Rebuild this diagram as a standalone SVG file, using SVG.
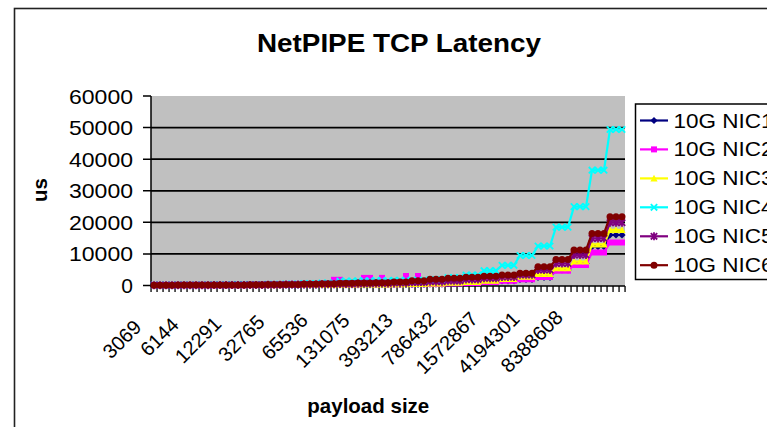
<svg xmlns="http://www.w3.org/2000/svg" width="767" height="427" viewBox="0 0 767 427">
<style>
text{font-family:"Liberation Sans",Arial,sans-serif;fill:#000}
.t10{font-size:20.5px}
.bold{font-weight:bold}
.ylab{font-size:21px;text-anchor:end}
.xlab{font-size:20px;text-anchor:end}
.grid{stroke:#000;stroke-width:1.7;fill:none}
.axis{stroke:#000;stroke-width:1.5;fill:none}
.ser{fill:none;stroke-width:2.2;stroke-linejoin:round}
.s1{stroke:#000080;marker-mid:url(#mDia)}
.s2{stroke:#ff00ff;marker-mid:url(#mSq)}
.s3{stroke:#ffff00;marker-mid:url(#mTri)}
.s4{stroke:#00ffff;marker-mid:url(#mX)}
.s5{stroke:#800080;marker-mid:url(#mStar)}
.s6{stroke:#800000;marker-mid:url(#mCir)}
#series .s1{marker-start:url(#mDia);marker-end:url(#mDia)}
#series .s2{marker-start:url(#mSq);marker-end:url(#mSq)}
#series .s3{marker-start:url(#mTri);marker-end:url(#mTri)}
#series .s4{marker-start:url(#mX);marker-end:url(#mX)}
#series .s5{marker-start:url(#mStar);marker-end:url(#mStar)}
#series .s6{marker-start:url(#mCir);marker-end:url(#mCir)}
</style>
<defs>
<marker id="mDia" markerUnits="userSpaceOnUse" markerWidth="10" markerHeight="10" viewBox="-5 -5 10 10" refX="0" refY="0"><path d="M0,-3.6L3.6,0L0,3.6L-3.6,0Z" fill="#000080"/></marker>
<marker id="mSq" markerUnits="userSpaceOnUse" markerWidth="10" markerHeight="10" viewBox="-5 -5 10 10" refX="0" refY="0"><rect x="-3" y="-3" width="6" height="6" fill="#ff00ff"/></marker>
<marker id="mTri" markerUnits="userSpaceOnUse" markerWidth="10" markerHeight="10" viewBox="-5 -5 10 10" refX="0" refY="0"><path d="M0,-3.6L3.6,3L-3.6,3Z" fill="#ffff00"/></marker>
<marker id="mX" markerUnits="userSpaceOnUse" markerWidth="10" markerHeight="10" viewBox="-5 -5 10 10" refX="0" refY="0"><path d="M-3.2,-3.2L3.2,3.2M-3.2,3.2L3.2,-3.2" stroke="#00ffff" stroke-width="1.8" fill="none"/></marker>
<marker id="mStar" markerUnits="userSpaceOnUse" markerWidth="10" markerHeight="10" viewBox="-5 -5 10 10" refX="0" refY="0"><path d="M-3.2,-3.2L3.2,3.2M-3.2,3.2L3.2,-3.2M0,-4V4" stroke="#800080" stroke-width="1.8" fill="none"/></marker>
<marker id="mCir" markerUnits="userSpaceOnUse" markerWidth="10" markerHeight="10" viewBox="-5 -5 10 10" refX="0" refY="0"><circle r="3.5" fill="#800000"/></marker>
</defs>

<rect width="767" height="427" fill="#fff"/>

<g id="chart-frame">
<rect x="14.5" y="8.5" width="800" height="500" fill="none" stroke="#222" stroke-width="1.6"/>
</g>

<g id="title">
<text x="399" y="52" class="bold" font-size="26" text-anchor="middle" textLength="284" lengthAdjust="spacingAndGlyphs">NetPIPE TCP Latency</text>
</g>

<g id="plot-area">
<rect x="151" y="96" width="474" height="190" fill="#c0c0c0"/>
</g>

<g id="gridlines">
<path class="grid" d="M151,253.9H625M151,222.3H625M151,190.8H625M151,159.2H625M151,127.6H625"/>
</g>

<g id="axes">
<path class="axis" d="M151,96V286.5M150.5,286H625"/>
<path class="axis" d="M143,96H151M143,127.6H151M143,159.2H151M143,190.8H151M143,222.3H151M143,253.9H151M143,285.5H151"/>
<line x1="150.4" y1="289" x2="626" y2="289" stroke="#000" stroke-width="6" stroke-dasharray="1.3 4.7"/>
</g>

<g id="y-axis-labels">
<text class="ylab" x="133" y="103.5" textLength="64" lengthAdjust="spacingAndGlyphs">60000</text>
<text class="ylab" x="133" y="135" textLength="64" lengthAdjust="spacingAndGlyphs">50000</text>
<text class="ylab" x="133" y="166.6" textLength="64" lengthAdjust="spacingAndGlyphs">40000</text>
<text class="ylab" x="133" y="198.2" textLength="64" lengthAdjust="spacingAndGlyphs">30000</text>
<text class="ylab" x="133" y="229.8" textLength="64" lengthAdjust="spacingAndGlyphs">20000</text>
<text class="ylab" x="133" y="261.4" textLength="64" lengthAdjust="spacingAndGlyphs">10000</text>
<text class="ylab" x="133" y="293">0</text>
</g>

<g id="y-axis-title">
<text transform="translate(46.7,190) rotate(-90)" class="t10 bold" text-anchor="middle">us</text>
</g>

<g id="x-axis-labels">
<text class="xlab" transform="translate(142.5,328.4) rotate(-45)">3069</text>
<text class="xlab" transform="translate(180,326.1) rotate(-45)">6144</text>
<text class="xlab" transform="translate(222.5,325.1) rotate(-45)">12291</text>
<text class="xlab" transform="translate(265.8,323.4) rotate(-45)">32765</text>
<text class="xlab" transform="translate(309,321.6) rotate(-45)">65536</text>
<text class="xlab" transform="translate(350.8,321.8) rotate(-45)">131075</text>
<text class="xlab" transform="translate(394,321.6) rotate(-45)">393213</text>
<text class="xlab" transform="translate(437.5,320.1) rotate(-45)">786432</text>
<text class="xlab" transform="translate(479,320.1) rotate(-45)">1572867</text>
<text class="xlab" transform="translate(520.8,320.1) rotate(-45)">4194301</text>
<text class="xlab" transform="translate(564,318.6) rotate(-45)">8388608</text>
</g>

<g id="x-axis-title">
<text x="368.3" y="413" class="t10 bold" text-anchor="middle">payload size</text>
</g>

<g id="series">
<polyline id="nic1" class="ser s1" points="154,285.3 160,285.3 166,285.3 172,285.3 178,285.3 184,285.3 190,285.3 196,285.3 202,285.3 208,285.3 214,285.3 220,285.3 226,285.3 232,285.3 238,285.3 244,285.3 250,285.3 256,285.3 262,285.3 268,285.2 274,285.2 280,285.2 286,285.2 292,285.2 298,285.2 304,285.1 310,285.1 316,285.1 322,285 328,285 334,285 340,285 346,285 352,285 358,284.9 364,284.9 370,284.9 376,284.7 382,284.7 388,284.7 394,284.6 400,284.6 406,284.6 412,284.4 418,284.4 424,284.4 430,284.1 436,284.1 442,284.1 448,283.6 454,283.6 460,283.6 466,283 472,283 478,283 484,282 490,282 496,282 502,280.8 508,280.8 514,280.8 520,279.5 526,279.5 532,279.5 538,277.3 544,277.3 550,277.3 556,270 562,270 568,270 574,263.4 580,263.4 586,263.4 592,246.7 598,246.7 604,246.7 610,235 616,235 622,235"/>
<polyline id="nic2" class="ser s2" points="154,285.3 160,285.3 166,285.3 172,285.3 178,285.3 184,285.3 190,285.3 196,285.3 202,285.3 208,285.3 214,285.3 220,285.3 226,285.3 232,285.3 238,285.3 244,285.3 250,285.2 256,285.2 262,285.2 268,285.1 274,285.1 280,285.1 286,285 292,285 298,285 304,284.9 310,284.9 316,284.9 322,284.7 328,284.7 334,279.8 340,279.8 346,284.6 352,284.6 358,284.5 364,277.9 370,277.9 376,284.4 382,277.9 388,284.4 394,284.3 400,284.3 406,276 412,284.2 418,276 424,284.2 430,283.9 436,283.9 442,283.9 448,283.4 454,283.4 460,283.4 466,283 472,283 478,283 484,282 490,282 496,282 502,280.8 508,280.8 514,280.8 520,279.3 526,279.3 532,279.3 538,277 544,277 550,277 556,270.7 562,270.7 568,270.7 574,265 580,265 586,265 592,252.5 598,252.5 604,252.5 610,242.5 616,242.5 622,242.5"/>
<polyline id="nic3" class="ser s3" points="154,285.3 160,285.3 166,285.3 172,285.3 178,285.3 184,285.3 190,285.3 196,285.3 202,285.3 208,285.3 214,285.2 220,285.2 226,285.2 232,285.2 238,285.2 244,285.2 250,285.2 256,285.2 262,285.2 268,285.2 274,285.2 280,285.2 286,285.1 292,285.1 298,285.1 304,285 310,285 316,285 322,284.9 328,284.9 334,284.9 340,284.8 346,284.8 352,284.8 358,284.6 364,284.6 370,284.6 376,284.5 382,284.5 388,284.5 394,284.2 400,284.2 406,284.2 412,283.9 418,283.9 424,283.9 430,283.4 436,283.4 442,283.4 448,282.8 454,282.8 460,282.8 466,282 472,282 478,282 484,280.8 490,280.8 496,280.8 502,278.9 508,278.9 514,278.9 520,276.7 526,276.7 532,276.7 538,274 544,274 550,274 556,268.3 562,268.3 568,268.3 574,261.5 580,261.5 586,261.5 592,244.4 598,244.4 604,244.4 610,229.9 616,229.9 622,229.9"/>
<polyline id="nic4" class="ser s4" points="154,285.2 160,285.1 166,285.1 172,285.1 178,285.1 184,285.1 190,285.1 196,285 202,285 208,285 214,284.9 220,284.9 226,284.9 232,284.7 238,284.7 244,284.7 250,284.6 256,284.6 262,284.6 268,284.3 274,284.3 280,284.3 286,284.1 292,284.1 298,284.1 304,283.6 310,283.6 316,283.6 322,283 328,283 334,283 340,281.1 346,281.1 352,281.1 358,280.8 364,280.8 370,280.8 376,280.6 382,280.6 388,280.6 394,280.4 400,280.4 406,280.4 412,280.3 418,280.3 424,280.3 430,279.8 436,279.8 442,279.8 448,277.6 454,277.6 460,277.6 466,275.1 472,275.1 478,275.1 484,270.7 490,270.7 496,270.7 502,265.3 508,265.3 514,265.3 520,255.5 526,255.5 532,255.5 538,246 544,246 550,246 556,227.1 562,227.1 568,227.1 574,206.6 580,206.6 586,206.6 592,170.2 598,170.2 604,170.2 610,129.5 616,129.5 622,129.5"/>
<polyline id="nic5" class="ser s5" points="154,285.2 160,285.2 166,285.2 172,285.2 178,285.2 184,285.2 190,285.2 196,285.2 202,285.2 208,285.2 214,285.1 220,285.1 226,285.1 232,285 238,285 244,285 250,284.9 256,284.9 262,284.9 268,284.8 274,284.8 280,284.8 286,284.6 292,284.6 298,284.6 304,284.5 310,284.5 316,284.5 322,284.2 328,284.2 334,284.2 340,283.9 346,283.9 352,283.9 358,283.6 364,283.6 370,283.6 376,283.3 382,283.3 388,283.3 394,283 400,283 406,283 412,282.3 418,282.3 424,282.3 430,281.7 436,281.7 442,281.7 448,280.8 454,280.8 460,280.8 466,279.5 472,279.5 478,279.5 484,278.2 490,278.2 496,278.2 502,277 508,277 514,277 520,274.8 526,274.8 532,274.8 538,270 544,270 550,270 556,263.4 562,263.4 568,263.4 574,254.9 580,254.9 586,254.9 592,238.4 598,238.4 604,238.4 610,222.7 616,222.7 622,222.7"/>
<polyline id="nic6" class="ser s6" points="154,285.2 160,285.2 166,285.2 172,285.2 178,285.1 184,285.1 190,285.1 196,285.1 202,285.1 208,285.1 214,285 220,285 226,285 232,284.9 238,284.9 244,284.9 250,284.8 256,284.8 262,284.8 268,284.6 274,284.6 280,284.6 286,284.4 292,284.4 298,284.4 304,284.1 310,284.1 316,284.1 322,283.7 328,283.7 334,283.7 340,283.3 346,283.3 352,283.3 358,283 364,283 370,283 376,282.7 382,282.7 388,282.7 394,282 400,282 406,282 412,280.8 418,280.8 424,280.8 430,279.2 436,279.2 442,279.2 448,278.2 454,278.2 460,278.2 466,277.3 472,277.3 478,277.3 484,276.3 490,276.3 496,276.3 502,275.1 508,275.1 514,275.1 520,273.2 526,273.2 532,273.2 538,266.7 544,266.7 550,266.7 556,259.6 562,259.6 568,259.6 574,250.1 580,250.1 586,250.1 592,233.4 598,233.4 604,233.4 610,216.7 616,216.7 622,216.7"/>
</g>

<g id="legend">
<rect x="635.5" y="104" width="200" height="175.5" fill="#fff" stroke="#000" stroke-width="1.5"/>
<g id="legend-nic1"><polyline class="ser s1" points="640,120.5 654,120.5 668,120.5"/><text class="t10" x="673.5" y="127.5" textLength="100" lengthAdjust="spacingAndGlyphs">10G NIC1</text></g>
<g id="legend-nic2"><polyline class="ser s2" points="640,149.4 654,149.4 668,149.4"/><text class="t10" x="673.5" y="156.4" textLength="100" lengthAdjust="spacingAndGlyphs">10G NIC2</text></g>
<g id="legend-nic3"><polyline class="ser s3" points="640,178.4 654,178.4 668,178.4"/><text class="t10" x="673.5" y="185.4" textLength="100" lengthAdjust="spacingAndGlyphs">10G NIC3</text></g>
<g id="legend-nic4"><polyline class="ser s4" points="640,207.3 654,207.3 668,207.3"/><text class="t10" x="673.5" y="214.3" textLength="100" lengthAdjust="spacingAndGlyphs">10G NIC4</text></g>
<g id="legend-nic5"><polyline class="ser s5" points="640,236.3 654,236.3 668,236.3"/><text class="t10" x="673.5" y="243.3" textLength="100" lengthAdjust="spacingAndGlyphs">10G NIC5</text></g>
<g id="legend-nic6"><polyline class="ser s6" points="640,265.2 654,265.2 668,265.2"/><text class="t10" x="673.5" y="272.2" textLength="100" lengthAdjust="spacingAndGlyphs">10G NIC6</text></g>
</g>
</svg>
